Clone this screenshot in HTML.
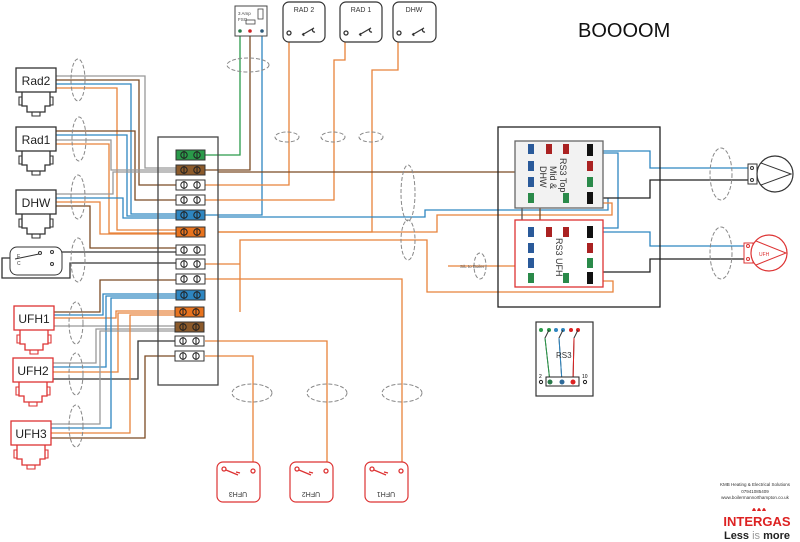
<!DOCTYPE html>
<html><head><meta charset="utf-8"><style>
html,body{margin:0;padding:0;background:#fff}
svg{display:block}
text{font-family:"Liberation Sans",sans-serif}
</style></head><body>
<svg width="800" height="542" viewBox="0 0 800 542" xmlns="http://www.w3.org/2000/svg">
<defs>
<g id="act"><rect x="0" y="0" width="40" height="24" fill="#fff" stroke-width="1.3"/><path d="M6 24v14h5v6h18v-6h5v-14" fill="none" stroke-width="1.3"/><path d="M6 29h-3v8h3M34 29h3v8h-3M16 44v4h8v-4" fill="none" stroke-width="1.1"/></g>
<g id="term"><rect x="0" y="-5" width="29" height="10" stroke="#333" stroke-width="1"/><circle cx="8" cy="0" r="3.2" fill="none" stroke="#222"/><line x1="8" y1="-4" x2="8" y2="4" stroke="#222"/><circle cx="21" cy="0" r="3.2" fill="none" stroke="#222"/><line x1="21" y1="-4" x2="21" y2="4" stroke="#222"/></g>
</defs>
<g fill="none" stroke-width="1.3">
<!-- top wires -->
<polyline points="205,155 240,155 240,31" stroke="#2a9a4a"/>
<polyline points="205,170 250,170 250,31" stroke="#7b4a24"/>
<polyline points="205,215 262,215 262,31" stroke="#2e86c1"/>
<polyline points="205,185 289,185 289,33" stroke="#e8823a"/>
<polyline points="205,200 334,200 334,60 345,60 345,33" stroke="#e8823a"/>
<polyline points="218,232 372,232 372,70 398,70 398,33" stroke="#e8823a"/>
<polyline points="218,172 533,172 533,167" stroke="#7b4a24"/>
<polyline points="218,217 425,217 425,210 608,210 608,198" stroke="#2e86c1"/>
<polyline points="218,232 437,232 437,215 612,215 612,203 592,203" stroke="#e8823a"/>
<polyline points="240,312 240,240 427,240 427,292 613,292 613,281 592,281" stroke="#e8823a"/>
<polyline points="205,264 240,264" stroke="#e8823a"/>
<polyline points="205,279 402,279 402,470" stroke="#e8823a"/>
<polyline points="205,341 327,341 327,470" stroke="#e8823a"/>
<polyline points="205,356 253,356 253,470" stroke="#e8823a"/>
<polyline points="448,266 531,266" stroke="#e8823a"/>
<!-- right pump wires -->
<polyline points="592,151 650,151 650,168 752,168" stroke="#2e86c1"/>
<polyline points="592,153 618,153 618,228 592,228" stroke="#2e86c1"/>
<polyline points="592,198 650,198 650,180 752,180" stroke="#222"/>
<polyline points="592,232 650,232 650,246 745,246" stroke="#2e86c1"/>
<polyline points="592,272 650,272 650,259 745,259" stroke="#222"/>
<polyline points="531,167 540,167 540,250 531,250" stroke="#7b4a24"/>
<polyline points="531,183 522,183 522,236 531,236 531,262" stroke="#555"/>
<!-- left wires Rad2 -->
<polyline points="56,76 145,76 145,168 176,168" stroke="#999"/>
<polyline points="56,80 139,80 139,185 176,185" stroke="#7b4a24"/>
<polyline points="56,84 131,84 131,214 176,214" stroke="#2e86c1"/>
<polyline points="56,88 117,88 117,230 176,230" stroke="#e8823a"/>
<!-- Rad1 -->
<polyline points="56,131 135,131 135,200 176,200" stroke="#7b4a24"/>
<polyline points="56,135 127,135 127,216 176,216" stroke="#2e86c1"/>
<polyline points="56,140 111,140 111,170 176,170" stroke="#999"/>
<polyline points="56,144 109,144 109,233 176,233" stroke="#e8823a"/>
<!-- DHW -->
<polyline points="56,198 123,198 123,218 176,218" stroke="#2e86c1"/>
<polyline points="56,202 100,202 100,234 176,234" stroke="#e8823a"/>
<polyline points="56,206 90,206 90,248 176,248" stroke="#7b4a24"/>
<polyline points="56,194 113,194 113,172 176,172" stroke="#999"/>
<!-- programmer -->
<polyline points="52,252 176,252" stroke="#333"/>
<polyline points="14,258 2,258 2,278 70,278 70,263 176,263" stroke="#333"/>
<!-- UFH1 -->
<polyline points="54,312 100,312 100,280 176,280" stroke="#7b4a24"/>
<polyline points="54,315 103,315 103,294 176,294" stroke="#2e86c1"/>
<polyline points="54,318 116,318 116,311 176,311" stroke="#e8823a"/>
<polyline points="54,326 176,326" stroke="#999"/>
<!-- UFH2 -->
<polyline points="53,363 96,363 96,329 176,329" stroke="#999"/>
<polyline points="53,367 106,367 106,296 176,296" stroke="#2e86c1"/>
<polyline points="53,372 118,372 118,313 176,313" stroke="#e8823a"/>
<polyline points="53,379 138,379 138,341 176,341" stroke="#333"/>
<!-- UFH3 -->
<polyline points="51,424 100,424 100,331 176,331" stroke="#999"/>
<polyline points="51,428 111,428 111,298 176,298" stroke="#2e86c1"/>
<polyline points="51,433 130,433 130,315 176,315" stroke="#e8823a"/>
<polyline points="51,438 145,438 145,356 176,356" stroke="#7b4a24"/>
</g>
<!-- strip box -->
<rect x="158" y="137" width="60" height="248" fill="none" stroke="#444" stroke-width="1.3"/>
<use href="#term" x="176" y="155" fill="#2a9a4a"/>
<use href="#term" x="176" y="170" fill="#8b5a2b"/>
<use href="#term" x="176" y="185" fill="#fff"/>
<use href="#term" x="176" y="200" fill="#fff"/>
<use href="#term" x="176" y="215" fill="#2e86c1"/>
<use href="#term" x="176" y="232" fill="#e8731e"/>
<use href="#term" x="176" y="250" fill="#fff"/>
<use href="#term" x="176" y="264" fill="#fff"/>
<use href="#term" x="176" y="279" fill="#fff"/>
<use href="#term" x="176" y="295" fill="#2e86c1"/>
<use href="#term" x="175" y="312" fill="#e8731e"/>
<use href="#term" x="175" y="327" fill="#8b5a2b"/>
<use href="#term" x="175" y="341" fill="#fff"/>
<use href="#term" x="175" y="356" fill="#fff"/>
<!-- fused spur -->
<rect x="235" y="6" width="32" height="30" fill="#fff" stroke="#444"/>
<text x="238" y="15" font-size="4.5" fill="#444">3 Amp</text><text x="238" y="21" font-size="4.5" fill="#444">FSO</text>
<rect x="258" y="9" width="5" height="10" fill="none" stroke="#444" stroke-width=".8"/><rect x="246" y="20" width="9" height="4" fill="none" stroke="#444" stroke-width=".8"/>
<circle cx="240" cy="31" r="1.8" fill="#2a7a4a"/><circle cx="250" cy="31" r="1.8" fill="#c22"/><circle cx="262" cy="31" r="1.8" fill="#2e5a7a"/>
<!-- room stats top -->
<g fill="#fff" stroke="#333" stroke-width="1.2">
<rect x="283" y="2" width="42" height="40" rx="6"/><rect x="340" y="2" width="42" height="40" rx="6"/><rect x="393" y="2" width="43" height="40" rx="6"/></g>
<text x="304" y="12" font-size="7" text-anchor="middle" fill="#333">RAD 2</text>
<text x="361" y="12" font-size="7" text-anchor="middle" fill="#333">RAD 1</text>
<text x="414" y="12" font-size="7" text-anchor="middle" fill="#333">DHW</text>
<g fill="none" stroke="#333" stroke-width="1.3">
<circle cx="289" cy="33" r="2"/><path d="M302 35l12-7M303 33l1 3M314 28a2 2 0 1 0 1 4"/>
<circle cx="346" cy="33" r="2"/><path d="M359 35l12-7M360 33l1 3M371 28a2 2 0 1 0 1 4"/>
<circle cx="399" cy="33" r="2"/><path d="M412 35l12-7M413 33l1 3M424 28a2 2 0 1 0 1 4"/>
</g>
<text x="578" y="37" font-size="20" fill="#111">BOOOOM</text>
<!-- left actuators -->
<use href="#act" x="16" y="68" fill="#fff" stroke="#333"/>
<use href="#act" x="16" y="127" fill="#fff" stroke="#333"/>
<use href="#act" x="16" y="190" fill="#fff" stroke="#333"/>
<use href="#act" x="14" y="306" fill="#fff" stroke="#d33"/>
<use href="#act" x="13" y="358" fill="#fff" stroke="#d33"/>
<use href="#act" x="11" y="421" fill="#fff" stroke="#d33"/>
<g font-size="12" text-anchor="middle" fill="#222">
<text x="36" y="85">Rad2</text><text x="36" y="144">Rad1</text><text x="36" y="207">DHW</text>
<text x="34" y="323">UFH1</text><text x="33" y="375">UFH2</text><text x="31" y="438">UFH3</text></g>
<!-- programmer -->
<rect x="10" y="247" width="52" height="28" rx="7" fill="#fff" stroke="#333"/>
<path d="M15 259l24-5" stroke="#333"/><circle cx="40" cy="253" r="1.5" fill="none" stroke="#333"/><circle cx="52" cy="252" r="1.5" fill="none" stroke="#333"/><circle cx="52" cy="264" r="1.5" fill="none" stroke="#333"/>
<text x="17" y="258" font-size="5" fill="#333">E</text><text x="17" y="265" font-size="5" fill="#333">C</text>
<!-- dashed ellipses -->
<g fill="none" stroke="#888" stroke-dasharray="4,2" stroke-width="1">
<ellipse cx="78" cy="80" rx="7" ry="21"/><ellipse cx="79" cy="139" rx="7" ry="22"/><ellipse cx="78" cy="197" rx="7" ry="22"/>
<ellipse cx="78" cy="260" rx="7" ry="22"/><ellipse cx="76" cy="323" rx="7" ry="21"/><ellipse cx="76" cy="374" rx="7" ry="21"/><ellipse cx="76" cy="426" rx="7" ry="21"/>
<ellipse cx="248" cy="65" rx="21" ry="7"/><ellipse cx="287" cy="137" rx="12" ry="5"/><ellipse cx="333" cy="137" rx="12" ry="5"/><ellipse cx="371" cy="137" rx="12" ry="5"/>
<ellipse cx="408" cy="193" rx="7" ry="28"/><ellipse cx="408" cy="240" rx="7" ry="20"/><ellipse cx="480" cy="266" rx="6" ry="13"/>
<ellipse cx="252" cy="393" rx="20" ry="9"/><ellipse cx="327" cy="393" rx="20" ry="9"/><ellipse cx="402" cy="393" rx="20" ry="9"/>
<ellipse cx="721" cy="174" rx="11" ry="26"/><ellipse cx="721" cy="253" rx="11" ry="26"/></g>
<text x="460" y="268" font-size="4.5" fill="#555">S/L to Boiler</text>
<!-- bottom stats -->
<g fill="#fff" stroke="#d33" stroke-width="1.2">
<rect x="217" y="462" width="43" height="40" rx="6"/><rect x="290" y="462" width="43" height="40" rx="6"/><rect x="365" y="462" width="43" height="40" rx="6"/></g>
<g fill="none" stroke="#d33" stroke-width="1.3">
<circle cx="253" cy="471" r="2"/><path d="M226 470l12 5M236 472l4 1"/><circle cx="224" cy="469" r="2"/>
<circle cx="326" cy="471" r="2"/><path d="M299 470l12 5M309 472l4 1"/><circle cx="297" cy="469" r="2"/>
<circle cx="401" cy="471" r="2"/><path d="M374 470l12 5M384 472l4 1"/><circle cx="372" cy="469" r="2"/></g>
<g font-size="7" fill="#333" text-anchor="middle">
<text transform="translate(238,492) rotate(180)">UFH3</text><text transform="translate(311,492) rotate(180)">UFH2</text><text transform="translate(386,492) rotate(180)">UFH1</text></g>
<!-- wiring centre -->
<rect x="498" y="127" width="162" height="180" fill="none" stroke="#222" stroke-width="1.3"/>
<rect x="515" y="141" width="88" height="67" fill="#f2f2f2" stroke="#666" stroke-width="1.3"/>
<rect x="515" y="220" width="88" height="67" fill="#fff" stroke="#d33" stroke-width="1.3"/>
<g stroke="none">
<rect x="528" y="144" width="6" height="10" fill="#2a5a9a"/><rect x="546" y="144" width="6" height="10" fill="#a22"/><rect x="563" y="144" width="6" height="10" fill="#a22"/><rect x="587" y="144" width="6" height="12" fill="#111"/>
<rect x="528" y="161" width="6" height="10" fill="#2a5a9a"/><rect x="587" y="161" width="6" height="10" fill="#a22"/>
<rect x="528" y="177" width="6" height="10" fill="#2a5a9a"/><rect x="587" y="177" width="6" height="10" fill="#2a8a4a"/>
<rect x="528" y="193" width="6" height="10" fill="#2a8a4a"/><rect x="563" y="193" width="6" height="10" fill="#2a8a4a"/><rect x="587" y="192" width="6" height="12" fill="#111"/>
<rect x="528" y="227" width="6" height="10" fill="#2a5a9a"/><rect x="546" y="227" width="6" height="10" fill="#a22"/><rect x="563" y="227" width="6" height="10" fill="#a22"/><rect x="587" y="226" width="6" height="12" fill="#111"/>
<rect x="528" y="243" width="6" height="10" fill="#2a5a9a"/><rect x="587" y="243" width="6" height="10" fill="#a22"/>
<rect x="528" y="258" width="6" height="10" fill="#2a5a9a"/><rect x="587" y="258" width="6" height="10" fill="#2a8a4a"/>
<rect x="528" y="273" width="6" height="10" fill="#2a8a4a"/><rect x="563" y="273" width="6" height="10" fill="#2a8a4a"/><rect x="587" y="272" width="6" height="12" fill="#111"/></g>
<text transform="translate(560,158) rotate(90)" font-size="9" fill="#333">RS3 Top</text>
<text transform="translate(550,166) rotate(90)" font-size="9" fill="#333">Mid &amp;</text>
<text transform="translate(540,166) rotate(90)" font-size="9" fill="#333">DHW</text>
<text transform="translate(556,238) rotate(90)" font-size="9" fill="#333">RS3 UFH</text>
<!-- pumps -->
<rect x="748" y="164" width="9" height="20" fill="#fff" stroke="#333"/><circle cx="752" cy="168" r="1.5" fill="none" stroke="#333"/><circle cx="752" cy="180" r="1.5" fill="none" stroke="#333"/>
<circle cx="775" cy="174" r="18" fill="#fff" stroke="#333" stroke-width="1.2"/><path d="M761 163l30 11-30 11" fill="none" stroke="#333"/>
<rect x="744" y="243" width="9" height="20" fill="#fff" stroke="#d33"/><circle cx="748" cy="246" r="1.5" fill="none" stroke="#d33"/><circle cx="748" cy="259" r="1.5" fill="none" stroke="#d33"/>
<circle cx="769" cy="253" r="18" fill="#fff" stroke="#d33" stroke-width="1.2"/><path d="M756 241l30 12-30 12" fill="none" stroke="#d33"/>
<text x="759" y="256" font-size="5" fill="#d33">UFH</text>
<!-- RS3 small -->
<rect x="536" y="322" width="57" height="74" fill="#fff" stroke="#333" stroke-width="1.2"/>
<g stroke="none"><circle cx="541" cy="330" r="2" fill="#2a9a4a"/><circle cx="549" cy="330" r="2" fill="#2a9a4a"/><circle cx="556" cy="330" r="2" fill="#2e86c1"/><circle cx="563" cy="330" r="2" fill="#2e86c1"/><circle cx="571" cy="330" r="2" fill="#d22"/><circle cx="578" cy="330" r="2" fill="#d22"/></g>
<path d="M549 330l-4 8L550 382M563 330l-4 8L562 382M578 330l-4 8L573 382" fill="none" stroke="#333" stroke-width="1"/>
<line x1="545" y1="338" x2="550" y2="382" stroke="#2a9a4a"/><line x1="559" y1="338" x2="562" y2="382" stroke="#2e86c1"/><line x1="574" y1="338" x2="573" y2="382" stroke="#d22"/>
<text x="556" y="358" font-size="8" fill="#333">RS3</text>
<rect x="546" y="377" width="33" height="9" fill="#fff" stroke="#222"/>
<circle cx="550" cy="382" r="2.5" fill="#2a7a4a"/><circle cx="562" cy="382" r="2.5" fill="#2e6a9a"/><circle cx="573" cy="382" r="2.5" fill="#d22"/>
<circle cx="541" cy="382" r="1.6" fill="none" stroke="#222"/><circle cx="585" cy="382" r="1.6" fill="none" stroke="#222"/>
<text x="539" y="378" font-size="5">2</text><text x="582" y="378" font-size="5">10</text>
<!-- logo -->
<g font-size="4.5" fill="#333" text-anchor="middle">
<text x="755" y="486">KMB Heating &amp; Electrical Solutions</text><text x="755" y="493">07941085409</text><text x="755" y="499">www.boilermannorthampton.co.uk</text></g>
<path d="M752 511q2-6 4 0M757 511q2-6 4 0M762 511q2-6 4 0" fill="#d22"/>
<text x="757" y="526" font-size="13" font-weight="bold" fill="#d22" text-anchor="middle">INTERGAS</text>
<text x="757" y="539" font-size="11" font-weight="bold" fill="#222" text-anchor="middle">Less <tspan fill="#999" font-weight="normal">is</tspan> more</text>
</svg>
</body></html>
